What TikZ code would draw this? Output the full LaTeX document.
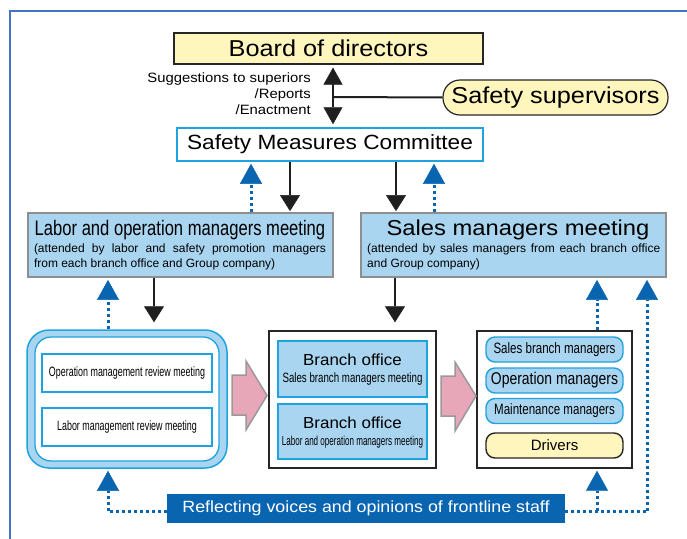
\documentclass[tikz,border=0pt]{standalone}
\usepackage{fontspec}
\setmainfont{Liberation Sans}
\newfontfamily\widef[FakeStretch=1.1]{Liberation Sans}
\newfontfamily\brf[FakeStretch=1.06]{Liberation Sans}
\newfontfamily\condA[FakeStretch=0.66]{Liberation Sans}
\newfontfamily\condB[FakeStretch=0.72]{Liberation Sans}
\newfontfamily\condC[FakeStretch=0.62]{Liberation Sans}
\newfontfamily\condD[FakeStretch=0.77]{Liberation Sans}
\newfontfamily\condE[FakeStretch=0.82]{Liberation Sans}
\newfontfamily\labf[FakeStretch=0.79]{Liberation Sans}
\usetikzlibrary{arrows.meta}
\definecolor{framebl}{HTML}{4472C4}
\definecolor{ylw}{HTML}{FFF6BE}
\definecolor{cyanb}{HTML}{1FA3DE}
\definecolor{lblue}{HTML}{A9D5F1}
\definecolor{arrowblue}{HTML}{0A65B1}
\definecolor{pinkf}{HTML}{E8A6B9}
\definecolor{grayb}{HTML}{8E8E8E}
\tikzset{
  yelbox/.style={draw=black!85, line width=1.2pt, fill=ylw, inner sep=0pt},
  meetbox/.style={draw=grayb, line width=1.8pt, fill=lblue, inner sep=0pt},
  cyanbox/.style={draw=cyanb, line width=1.5pt, inner sep=0pt},
  outerbox/.style={draw=black!85, line width=1.4pt, fill=white, inner sep=0pt},
  pillbox/.style={draw=cyanb, line width=1.4pt, fill=lblue, rounded corners=9pt, inner sep=0pt, minimum width=137, minimum height=25},
  blk/.style={line width=2.5pt, draw=black!88, -{Triangle[width=20pt,length=16pt,line width=0.5pt]}},
  dblk/.style={line width=2.5pt, draw=black!88, {Triangle[width=19pt,length=17pt,line width=0.5pt]}-{Triangle[width=19pt,length=17pt,line width=0.5pt]}},
  bludot/.style={line width=3pt, draw=arrowblue, dash pattern=on 3pt off 3pt},
  blu/.style={bludot, -{Triangle[width=22pt,length=20pt,line width=0.5pt]}},
  pinkarrow/.style={fill=pinkf, draw=gray!80, line width=1.5pt, line join=miter},
}
\begin{document}
\begin{tikzpicture}[x=1pt,y=-1pt]
\useasboundingbox (0,0) rectangle (687,538);
% frame
\draw[framebl, line width=2.5pt] (10,540) -- (10,11) -- (690,11);

% top
\node[yelbox, minimum width=309, minimum height=31, font={\widef\fontsize{23}{25}\selectfont}] (board) at (328.5,48.5) {Board of directors};
\node[yelbox, rounded corners=17pt, minimum width=225, minimum height=35, font={\widef\fontsize{23}{25}\selectfont}] (sup) at (555.5,97.5) {Safety supervisors};
\node[cyanbox, fill=white, minimum width=306, minimum height=33, font={\widef\fontsize{20.6}{23}\selectfont}] (smc) at (330,144.5) {Safety Measures Committee};
\node[anchor=east, align=right, inner sep=0pt, font={\widef\fontsize{13.5}{16}\selectfont}] (sugg) at (311,94) {Suggestions to superiors\\/Reports\\/Enactment};
\coordinate (ax) at (333,97);
\draw[dblk, shorten <=3pt, shorten >=3pt] (ax |- board.south) -- (ax |- smc.north);
\draw[line width=2pt, black!88] (ax) -- (sup.west);

% meetings
\node[meetbox, minimum width=305, minimum height=64] (labor) at (180.5,245) {};
\node[inner sep=0pt, font={\labf\fontsize{21}{23}\selectfont}] (laborT) at (180,230) {Labor and operation managers meeting};
\node[inner sep=0pt, anchor=north, text width=292, align=justify, font={\fontsize{12}{15}\selectfont}] (laborS) at (180,244) {(attended by labor and safety promotion managers\linebreak from each branch office and Group company)};

\node[meetbox, minimum width=305, minimum height=64] (sales) at (513.5,245) {};
\node[inner sep=0pt, font={\widef\fontsize{21.6}{23}\selectfont}] (salesT) at (518,230) {Sales managers meeting};
\node[inner sep=0pt, anchor=north west, text width=293, align=justify, font={\fontsize{12}{15}\selectfont}] (salesS) at (367,244) {(attended by sales managers from each branch office and Group company)};

% arrows between committee and meetings
\coordinate (c251) at (251,0);
\coordinate (c290) at (290,0);
\coordinate (c396) at (396,0);
\coordinate (c434) at (434,0);
\draw[blk, shorten >=1pt] (smc.south -| c290) -- (labor.north -| c290);
\draw[blk, shorten >=1pt] (smc.south -| c396) -- (sales.north -| c396);
\draw[blu, shorten >=2pt] (labor.north -| c251) -- (smc.south -| c251);
\draw[blu, shorten >=2pt] (sales.north -| c434) -- (smc.south -| c434);

% left rounded box
\node[draw=cyanb, line width=1.5pt, fill=lblue, rounded corners=22pt, minimum width=200, minimum height=138, inner sep=0pt] (lbox) at (127,399) {};
\node[draw=cyanb, line width=1.3pt, fill=white, rounded corners=16pt, minimum width=184, minimum height=124, inner sep=0pt] (lboxin) at (127,399) {};
\node[cyanbox, fill=white, minimum width=170, minimum height=38, font={\condA\fontsize{13.5}{15}\selectfont}] (opr) at (127,373) {Operation management review meeting};
\node[cyanbox, fill=white, minimum width=170, minimum height=38, font={\condA\fontsize{13.5}{15}\selectfont}] (lmr) at (127,427) {Labor management review meeting};

% middle box
\node[outerbox, minimum width=167, minimum height=137] (mid) at (352.5,399.5) {};
\node[cyanbox, fill=lblue, minimum width=149, minimum height=56] (bo1) at (352.5,369) {};
\node[inner sep=0pt, font={\brf\fontsize{16}{18}\selectfont}] (bo1a) at (352.5,360) {Branch office};
\node[inner sep=0pt, font={\condB\fontsize{13.5}{15}\selectfont}] (bo1b) at (352.5,379.5) {Sales branch managers meeting};
\node[cyanbox, fill=lblue, minimum width=149, minimum height=55] (bo2) at (352.5,431.5) {};
\node[inner sep=0pt, font={\brf\fontsize{16}{18}\selectfont}] (bo2a) at (352.5,423) {Branch office};
\node[inner sep=0pt, font={\condC\fontsize{13}{15}\selectfont}] (bo2b) at (352.5,442) {Labor and operation managers meeting};

% right box
\node[outerbox, minimum width=155, minimum height=137] (rbox) at (554.5,399.5) {};
\node[pillbox, font={\condD\fontsize{15}{17}\selectfont}] (r1) at (554.5,349.5) {Sales branch managers};
\node[pillbox, font={\condE\fontsize{17}{19}\selectfont}] (r2) at (554.5,380.5) {Operation managers};
\node[pillbox, font={\condD\fontsize{15}{17}\selectfont}] (r3) at (554.5,411) {Maintenance managers};
\node[yelbox, rounded corners=9pt, line width=1.4pt, minimum width=137, minimum height=25, font={\fontsize{15}{17}\selectfont}] (drv) at (554.5,445.5) {Drivers};

% pink arrows
\draw[pinkarrow] (232,375) -- (246,375) -- (246,361) -- (267,395.5) -- (246,430) -- (246,415) -- (232,415) -- cycle;
\draw[pinkarrow] (441,376) -- (455,376) -- (455,362) -- (476,396) -- (455,431) -- (455,416) -- (441,416) -- cycle;

% arrows to lower row
\coordinate (c154) at (154,0);
\coordinate (c395) at (395,0);
\coordinate (c108) at (108,0);
\coordinate (c597) at (597,0);
\coordinate (c647) at (647,0);
\draw[blk, shorten >=7pt] (labor.south -| c154) -- (lbox.north -| c154);
\draw[blk, shorten >=8pt] (sales.south -| c395) -- (mid.north -| c395);
\draw[blu, shorten >=2pt] (lbox.north -| c108) -- (labor.south -| c108);
\draw[blu, shorten >=2pt] (rbox.north -| c597) -- (sales.south -| c597);

% banner
\node[fill=arrowblue, text=white, minimum width=398, minimum height=29, inner sep=0pt, font={\widef\fontsize{16.2}{18}\selectfont}] (banner) at (366,508.5) {Reflecting voices and opinions of frontline staff};
\coordinate (bl) at (108,511);
\coordinate (br) at (647,511);
\coordinate (bm) at (597,511);
\draw[bludot] (banner.west |- bl) -- (bl);
\draw[blu, shorten >=2pt] (bl) -- (lbox.south -| bl);
\draw[bludot] (banner.east |- br) -- (br);
\draw[blu, shorten >=2pt] (br) -- (sales.south -| br);
\draw[blu, shorten >=2pt] (bm) -- (rbox.south -| bm);
\end{tikzpicture}
\end{document}
